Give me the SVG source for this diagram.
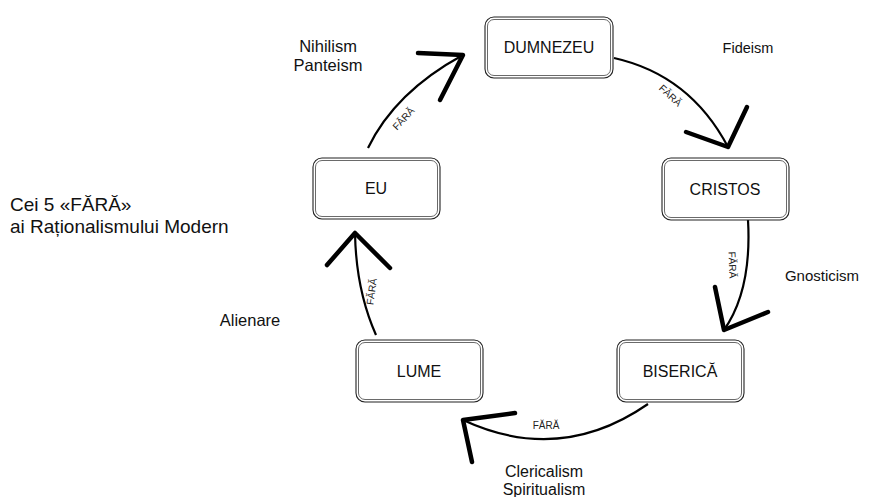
<svg xmlns="http://www.w3.org/2000/svg" width="869" height="497" viewBox="0 0 869 497">
<style>
.bo{fill:#fff;stroke:#222;stroke-width:1.1}
.bi{fill:none;stroke:#444;stroke-width:0.8}
.lbl{font-family:"Liberation Sans",Arial,sans-serif;font-size:16px;fill:#111;text-anchor:middle}
.note{font-family:"Liberation Sans",Arial,sans-serif;fill:#111;text-anchor:middle}
.far{font-family:"Liberation Sans",Arial,sans-serif;font-size:10px;fill:#222;text-anchor:middle}
.cur{fill:none;stroke:#000;stroke-width:2.2}
.hd{fill:none;stroke:#000;stroke-width:4.5;stroke-linecap:round;stroke-linejoin:round}
</style>
<rect width="869" height="497" fill="#fff"/>
<g id="connectors">
<path class="cur" d="M368,148 Q395,92 463,55"/>
<polyline class="hd" points="418,53 463,55 440,100"/>
<text class="far" transform="translate(406,121) rotate(-47)">FĂRĂ</text>
<path class="cur" d="M614,58 Q690,75 728,147"/>
<polyline class="hd" points="686,132 728,147 747,107"/>
<text class="far" transform="translate(668,98) rotate(43)">FĂRĂ</text>
<path class="cur" d="M748,220 Q752,290 724,330"/>
<polyline class="hd" points="715,287 724,330 768,312"/>
<text class="far" transform="translate(729,265) rotate(88)">FĂRĂ</text>
<path class="cur" d="M648,404 Q560,465 463,420"/>
<polyline class="hd" points="515,413 463,420 472,462"/>
<text class="far" x="546" y="429">FĂRĂ</text>
<path class="cur" d="M376,335 Q356,290 355,233"/>
<polyline class="hd" points="327,265 355,233 390,268"/>
<text class="far" transform="translate(375,292) rotate(-82)">FĂRĂ</text>
</g>
<g id="dumnezeu">
<rect class="bo" x="485" y="17" width="128" height="61" rx="9"/>
<rect class="bi" x="487.5" y="19.5" width="123" height="56" rx="6.5"/>
<text class="lbl" x="549" y="53">DUMNEZEU</text>
</g>
<g id="cristos">
<rect class="bo" x="662" y="158" width="127" height="62" rx="9"/>
<rect class="bi" x="664.5" y="160.5" width="122" height="57" rx="6.5"/>
<text class="lbl" x="725" y="195">CRISTOS</text>
</g>
<g id="biserica">
<rect class="bo" x="617" y="340" width="127" height="62" rx="9"/>
<rect class="bi" x="619.5" y="342.5" width="122" height="57" rx="6.5"/>
<text class="lbl" x="680" y="377">BISERICĂ</text>
</g>
<g id="lume">
<rect class="bo" x="356" y="340" width="127" height="62" rx="9"/>
<rect class="bi" x="358.5" y="342.5" width="122" height="57" rx="6.5"/>
<text class="lbl" x="419" y="377">LUME</text>
</g>
<g id="eu">
<rect class="bo" x="313" y="158" width="127" height="61" rx="9"/>
<rect class="bi" x="315.5" y="160.5" width="122" height="56" rx="6.5"/>
<text class="lbl" x="376" y="194">EU</text>
</g>
<g id="notes">
<text class="note" font-size="16.5" x="328" y="52">Nihilism</text>
<text class="note" font-size="16.5" x="328" y="71">Panteism</text>
<text class="note" font-size="14.5" x="748" y="53">Fideism</text>
<text class="note" font-size="15" x="822" y="281">Gnosticism</text>
<text class="note" font-size="16.5" x="250" y="326">Alienare</text>
<text class="note" font-size="16" x="544" y="477">Clericalism</text>
<text class="note" font-size="16" x="544" y="495">Spiritualism</text>
</g>
<g id="title" font-family="'Liberation Sans',Arial,sans-serif" font-size="19" fill="#111">
<text x="10" y="211">Cei 5 «FĂRĂ»</text>
<text x="10" y="233">ai Raționalismului Modern</text>
</g>
</svg>
